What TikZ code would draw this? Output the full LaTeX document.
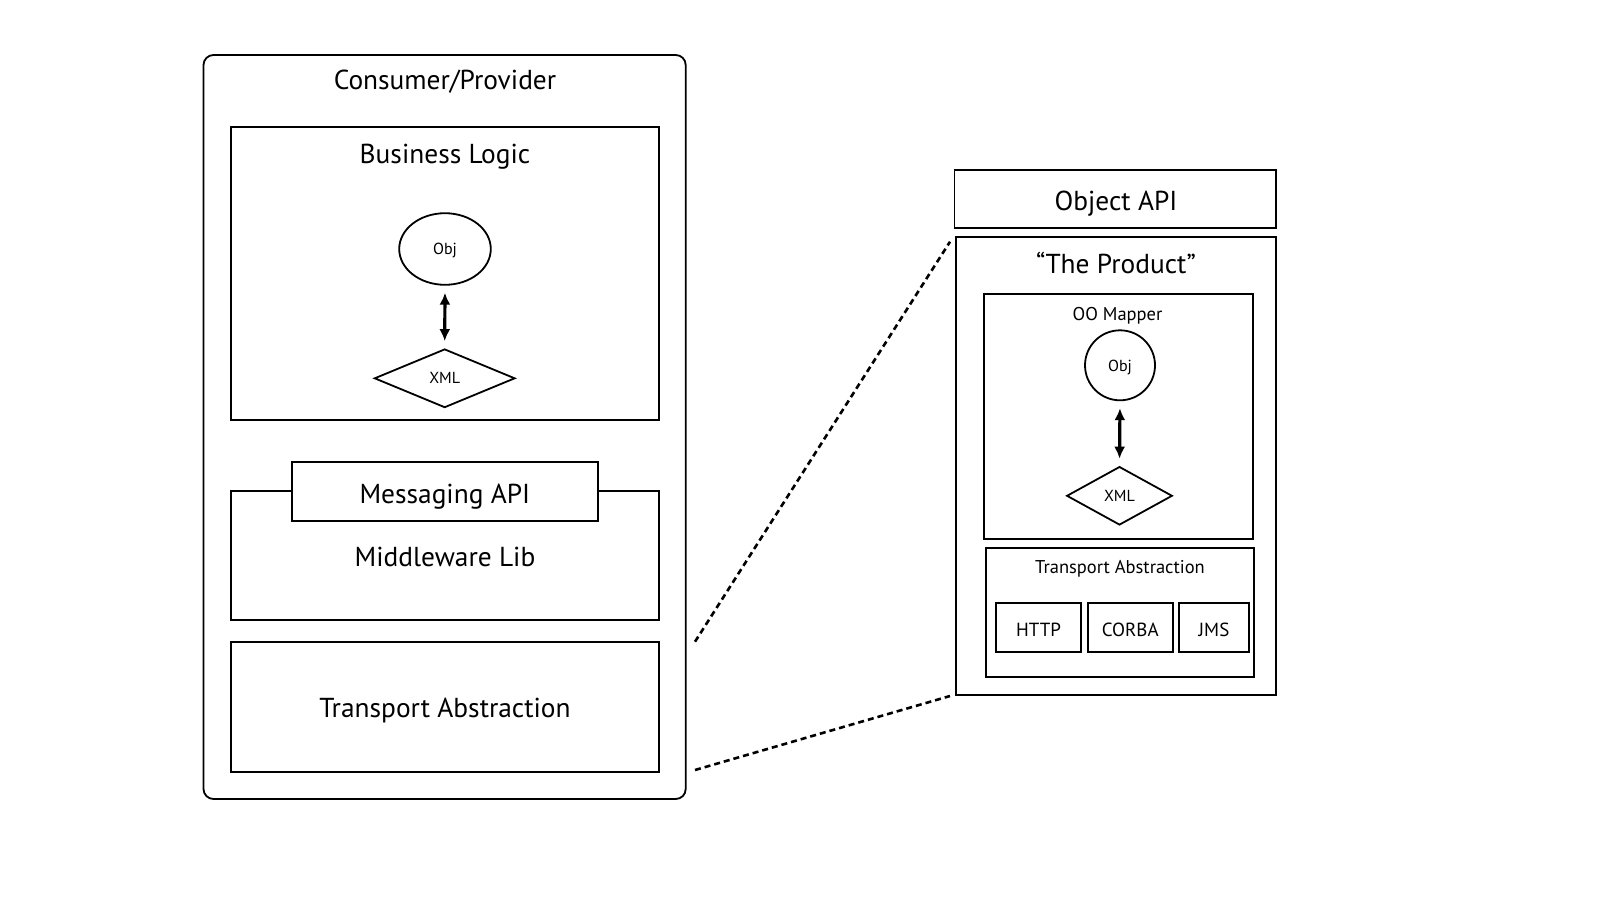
\documentclass[tikz,border=0pt]{standalone}
\usepackage{fontspec}
\setmainfont{PT Sans}
\usetikzlibrary{shapes.geometric,arrows.meta}
\tikzset{
  box/.style={draw=black, line width=1.8pt, rectangle, inner sep=0pt, fill=white},
  bigtxt/.style={anchor=base, inner sep=0pt, font=\fontsize{27.4}{30}\selectfont},
  midtxt/.style={anchor=base, inner sep=0pt, font=\fontsize{18.5}{21}\selectfont},
  protxt/.style={anchor=base, inner sep=0pt, font=\fontsize{19}{22}\selectfont},
  smalltxt/.style={font=\fontsize{16}{18}\selectfont, text depth=0pt},
  objell/.style={draw=black, line width=1.8pt, ellipse, inner sep=0pt, smalltxt},
  xmldia/.style={draw=black, line width=1.8pt, diamond, inner sep=0pt, smalltxt},
  dbl/.style={line width=3.2pt, {Latex[length=12pt,width=11pt]}-{Latex[length=12pt,width=11pt]}, shorten >=7pt, shorten <=7pt},
  zoomline/.style={line width=2.6pt, dash pattern=on 6pt off 4pt}
}
\begin{document}
\begin{tikzpicture}[x=1pt,y=-1pt]
\useasboundingbox (0,0) rectangle (1600,900);
% left stack
\node[box, rounded corners=10pt, minimum width=482.2pt, minimum height=744pt] (outer) at (444.6,427) {};
\node[bigtxt] (outert) at (445,89.8) {Consumer/Provider};
\node[box, minimum width=428pt, minimum height=293pt] (bl) at (445,273.8) {};
\node[bigtxt] (blt) at (445,163) {Business Logic};
\node[objell, minimum width=91.6pt, minimum height=71.6pt] (obj1) at (445,249) {Obj};
\node[xmldia, aspect=2.4, minimum width=140.6pt, minimum height=58.6pt] (xml1) at (444.7,378.3) {XML};
\draw[dbl] (obj1.south) -- (xml1.north);
\node[box, minimum width=428pt, minimum height=129.3pt] (mw) at (445,555.35) {};
\node[bigtxt] (mwt) at (445,566) {Middleware Lib};
\node[box, minimum width=305.7pt, minimum height=58.4pt] (mapi) at (444.85,491.5) {};
\node[bigtxt] (mapit) at (444.85,503) {Messaging API};
\node[box, minimum width=428pt, minimum height=129.7pt] (ta1) at (445,706.85) {};
\node[bigtxt] (ta1t) at (445,717.4) {Transport Abstraction};
% right stack
\node[box, minimum width=321.2pt, minimum height=58pt] (oapi) at (1115.1,199) {};
\node[bigtxt] (oapit) at (1116,210) {Object API};
\node[box, minimum width=319.7pt, minimum height=458.3pt] (prod) at (1115.85,465.85) {};
\node[bigtxt] (prodt) at (1116,273.5) {“The Product”};
\node[box, minimum width=268.4pt, minimum height=245pt] (oom) at (1118.5,416.8) {};
\node[midtxt] (oomt) at (1117.5,320.7) {OO Mapper};
\node[objell, circle, minimum size=70pt] (obj2) at (1120,365.3) {Obj};
\node[xmldia, aspect=1.81, minimum width=105.6pt, minimum height=58.4pt] (xml2) at (1119.5,495.8) {XML};
\draw[dbl] (obj2.south) -- (xml2.north);
\node[box, minimum width=268pt, minimum height=129.6pt] (ta2) at (1120,612.5) {};
\node[midtxt] (ta2t) at (1120,573.3) {Transport Abstraction};
\node[box, minimum width=85pt, minimum height=49.6pt] (http) at (1038.5,627.5) {};
\node[protxt] (httpt) at (1038.5,636.7) {HTTP};
\node[box, minimum width=85pt, minimum height=49.6pt] (corba) at (1130.2,627.5) {};
\node[protxt] (corbat) at (1130.2,636.7) {CORBA};
\node[box, minimum width=69.4pt, minimum height=49.6pt] (jms) at (1214,627.5) {};
\node[protxt] (jmst) at (1214,636.7) {JMS};
% zoom lines
\coordinate (z1a) at (695,641.7);
\coordinate (z1b) at (950,241.7);
\coordinate (z2a) at (695,770);
\coordinate (z2b) at (950,696);
\draw[zoomline] (z1a) -- (z1b);
\draw[zoomline] (z2a) -- (z2b);
\end{tikzpicture}
\end{document}
